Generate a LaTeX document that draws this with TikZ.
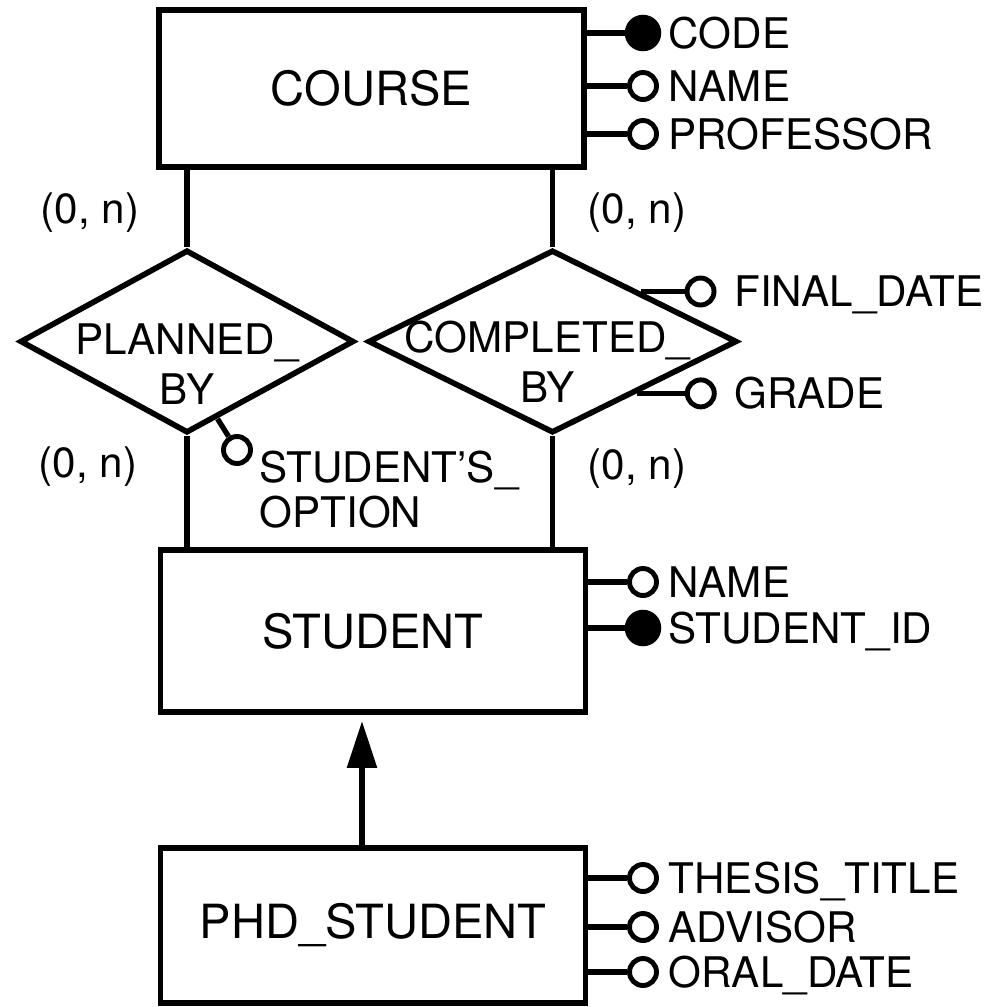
\documentclass[tikz,border=0pt]{standalone}
\usepackage{fontspec}
\setmainfont{TeX Gyre Heros}
\usepackage{tikz}
\usetikzlibrary{arrows.meta,positioning,calc,shapes.geometric}

\begin{document}
\begin{tikzpicture}[
    conn/.style={line width=1.5pt},
    entity/.style={draw, line width=1.7pt, minimum width=4.25cm, minimum height=1.57cm,
      font=\fontsize{13.4}{16}\selectfont},
    rel/.style={draw, diamond, line width=1.6pt, inner sep=0pt, minimum height=1.83cm},
    reltext/.style={align=center, inner sep=0pt, anchor=north, font=\fontsize{12}{14.2}\selectfont},
    card/.style={inner sep=0pt, font=\fontsize{12}{14}\selectfont},
    attr/.style={inner sep=0pt, anchor=west, text height=8.6pt, text depth=0pt,
      font=\fontsize{12}{14}\selectfont},
    optattr/.style={draw, circle, line width=1.4pt, minimum size=0.27cm, inner sep=0pt},
    keyattr/.style={draw, circle, fill=black, line width=1pt, minimum size=0.33cm, inner sep=0pt},
    isa/.style={line width=1.7pt, -{Triangle[length=0.47cm,width=0.29cm]}, shorten >=0.06cm}
  ]
  \useasboundingbox (0,0) rectangle (9.92,-10.07);

  % entities
  \node[entity] (course) at (3.715,-0.885) {COURSE};
  \node[entity, minimum height=1.62cm] (student) at (3.73,-6.31) {STUDENT};
  \node[entity, minimum height=1.55cm] (phd) at (3.73,-9.255) {PHD\_STUDENT};

  % relationships
  \node[rel, minimum width=3.34cm] (planned) at (1.87,-3.415) {};
  \node[rel, minimum width=3.69cm] (completed) at (5.525,-3.415) {};
  \node[reltext] (planned-t) at ([yshift=0.18cm]planned.center) {PLANNED\_\\BY};
  \node[reltext] (completed-t) at ([xshift=-0.05cm,yshift=0.21cm]completed.center) {COMPLETED\_\\BY};

  \draw[conn] (planned.north) -- (planned.north |- course.south);
  \draw[conn] (completed.north) -- (completed.north |- course.south);
  \draw[conn] (planned.south) -- (planned.south |- student.north);
  \draw[conn] (completed.south) -- (completed.south |- student.north);

  % cardinalities
  \node[card] (card-pc) at (0.90,-2.13) {(0, n)};
  \node[card] (card-ps) at (0.88,-4.67) {(0, n)};
  \node[card] (card-cc) at (6.37,-2.13) {(0, n)};
  \node[card] (card-cs) at (6.37,-4.69) {(0, n)};

  % generalization
  \draw[isa] ([xshift=-0.11cm]phd.north) -- ([xshift=-0.11cm]student.south);

  % attributes of the entities
  \foreach \nm/\yy/\txt/\kd in {code/-0.33/CODE/keyattr, cname/-0.86/NAME/optattr,
      prof/-1.34/PROFESSOR/optattr}{
    \node[\kd] (a-\nm) at (6.43,\yy) {};
    \node[attr, right=0.25cm of a-\nm.center] {\txt};
    \draw[conn] (course.east |- a-\nm) -- (a-\nm);
  }
  \foreach \nm/\yy/\txt/\kd in {sname/-5.82/NAME/optattr, sid/-6.28/STUDENT\_ID/keyattr}{
    \node[\kd] (a-\nm) at (6.43,\yy) {};
    \node[attr, right=0.25cm of a-\nm.center] {\txt};
    \draw[conn] (student.east |- a-\nm) -- (a-\nm);
  }
  \foreach \nm/\yy/\txt in {thesis/-8.78/THESIS\_TITLE, advisor/-9.27/ADVISOR,
      oral/-9.72/ORAL\_DATE}{
    \node[optattr] (a-\nm) at (6.43,\yy) {};
    \node[attr, right=0.25cm of a-\nm.center] {\txt};
    \draw[conn] (phd.east |- a-\nm) -- (a-\nm);
  }

  % attributes of the relationships
  \node[optattr] (a-final) at ($(completed.north)!0.47!(completed.east)+(0.60,0)$) {};
  \draw[conn] ($(completed.north)!0.47!(completed.east)$) -- (a-final);
  \node[attr, right=0.33cm of a-final.center] {FINAL\_DATE};

  \node[optattr] (a-grade) at ($(completed.east)!0.55!(completed.south)+(0.64,0)$) {};
  \draw[conn] ($(completed.east)!0.55!(completed.south)$) -- (a-grade);
  \node[attr, right=0.33cm of a-grade.center] {GRADE};

  \node[optattr] (a-option) at (2.37,-4.50) {};
  \draw[conn] ($(planned.south)!0.18!(planned.east)$) -- (a-option);
  \node[inner sep=0pt, align=left, anchor=north west, font=\fontsize{12}{12.8}\selectfont]
    (option-t) at (2.59,-4.50) {STUDENT'S\_\\OPTION};
\end{tikzpicture}
\end{document}
